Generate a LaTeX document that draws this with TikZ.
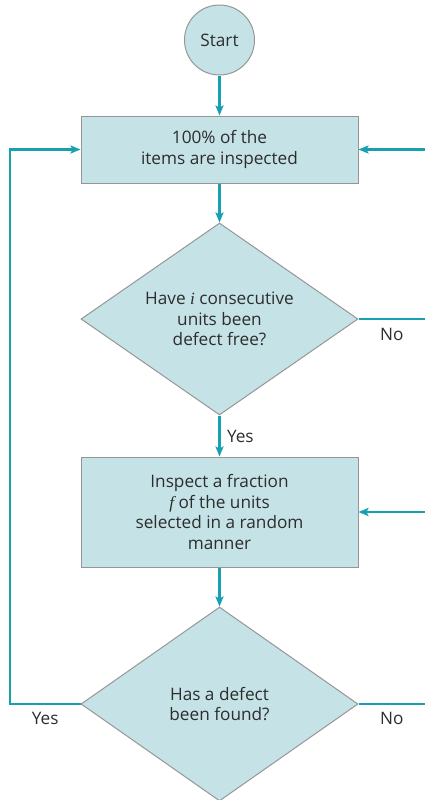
\documentclass[tikz,border=0pt]{standalone}
\usepackage{fontspec}
\setmainfont{Open Sans}
\newfontfamily\varfont{Liberation Serif}
\usetikzlibrary{positioning, arrows.meta, shapes.geometric, calc}
\definecolor{flowteal}{RGB}{22,160,176}
\definecolor{boxfill}{RGB}{197,227,231}
\definecolor{boxline}{RGB}{150,150,150}
\definecolor{txtgray}{RGB}{45,45,45}
\newcommand{\itvar}[1]{{\varfont\itshape #1}}

\begin{document}
\begin{tikzpicture}[x=1pt, y=1pt, font=\fontsize{17.2}{20.5}\selectfont, text=txtgray,
  arrow/.style={-{Stealth[length=10pt, width=8pt, inset=2pt]}, line width=2.4pt, draw=flowteal},
  flowline/.style={line width=2.4pt, draw=flowteal},
  startnode/.style={draw=boxline, line width=1pt, fill=boxfill, circle, minimum size=70pt, inner sep=0pt},
  procbox/.style={draw=boxline, line width=1pt, fill=boxfill, rectangle, align=center, minimum width=277pt, minimum height=67pt},
  decision/.style={draw=boxline, line width=1pt, fill=boxfill, diamond, aspect=1.44, align=center, inner sep=0pt, minimum width=277pt, minimum height=192pt},
  lbl/.style={text=txtgray}]
\useasboundingbox (0,0) rectangle (425,-800);
\node[startnode] (start) at (219.5,-40) {Start};
\node[procbox, below=40pt of start] (full) {100\% of the\\items are inspected};
\node[decision, below=39pt of full] (runchk) {Have \itvar{i} consecutive\\units been\\defect free?};
\node[procbox, minimum height=110pt, below=41pt of runchk] (sample) {Inspect a fraction\\\itvar{f} of the units\\selected in a random\\manner};
\node[decision, minimum height=194pt, below=39pt of sample] (defchk) {Has a defect\\been found?};
\coordinate (edgeL) at (10,0);
\coordinate (edgeR) at (425,0);
% main line
\draw[arrow] (start) -- (full);
\draw[arrow] (full) -- (runchk);
\draw[arrow] (runchk) -- node[lbl, right=3pt] {Yes} (sample);
\draw[arrow] (sample) -- (defchk);
% exits and loops
\draw[flowline] (runchk.east) -- node[lbl, below=5pt] {No} (runchk.east -| edgeR);
\draw[flowline] (defchk.east) -- node[lbl, below=4pt] {No} (defchk.east -| edgeR);
\draw[arrow] (defchk.west) -- node[lbl, below=4pt] {Yes} (defchk.west -| edgeL) |- (full.west);
\draw[arrow] (full.east -| edgeR) -- (full.east);
\draw[arrow] (sample.east -| edgeR) -- (sample.east);
\end{tikzpicture}
\end{document}
